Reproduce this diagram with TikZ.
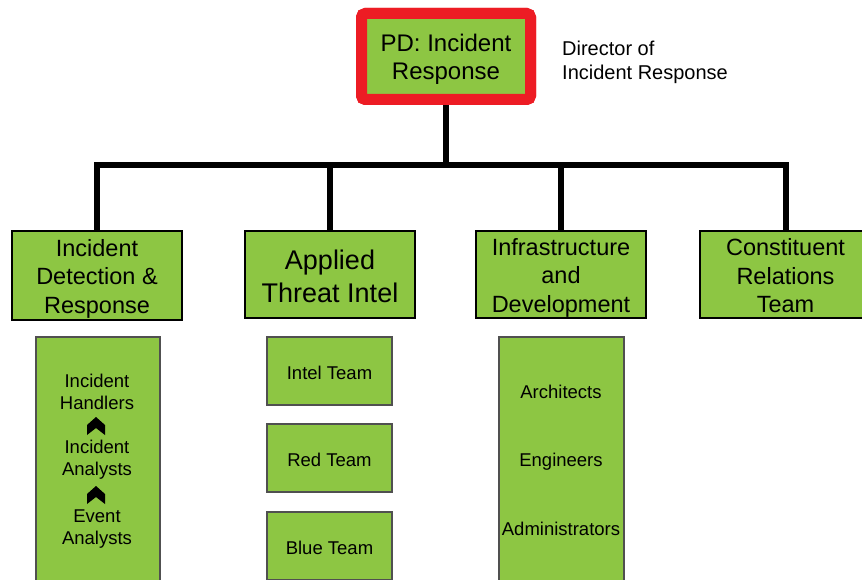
\documentclass[tikz,border=0pt]{standalone}
\usepackage{fontspec}
\setmainfont{Liberation Sans}
\definecolor{boxgreen}{RGB}{141,198,67}
\definecolor{boxred}{RGB}{237,28,36}
\definecolor{subedge}{RGB}{80,80,80}
\tikzset{
  mainbox/.style={draw=black, line width=1.2pt, fill=boxgreen, inner sep=0pt, minimum width=170pt},
  topbox/.style={draw=boxred, line width=11pt, fill=boxgreen, rounded corners=4pt, minimum width=169pt, minimum height=86pt, inner sep=0pt},
  maintext/.style={align=center, inner sep=0pt, font=\fontsize{23.5}{28.5}\selectfont},
  subbox/.style={draw=subedge, line width=1.2pt, fill=boxgreen, inner sep=0pt, minimum width=125pt},
  subtext/.style={align=center, inner sep=0pt, font=\fontsize{18.5}{22}\selectfont},
  conn/.style={draw=black, line width=6pt},
  chev/.style={fill=black}
}
\begin{document}
\begin{tikzpicture}[x=1pt,y=-1pt]
\useasboundingbox (0,0) rectangle (862,580);
\clip (0,0) rectangle (862,580);

% nodes (boxes)
\node[topbox] (top) at (446,56.5) {};
\node[mainbox, minimum height=89pt] (idr) at (97,275.5) {};
\node[mainbox, minimum height=87pt] (ati) at (330,274.5) {};
\node[mainbox, minimum height=87pt] (infra) at (561,274.5) {};
\node[mainbox, minimum width=171pt, minimum height=87pt] (cr) at (785.5,274.5) {};

% connectors
\coordinate (bar) at (446,165);
\draw[conn] (top.south) -- (top.south |- bar);
\draw[conn] (idr.north) -- (idr.north |- bar) -- (cr.north |- bar) -- (cr.north);
\draw[conn] (ati.north) -- (ati.north |- bar);
\draw[conn] (infra.north) -- (infra.north |- bar);
% redraw boxes over connector ends
\node[topbox] (topc) at (top.center) {};
\node[mainbox, minimum height=89pt] (idrc) at (idr.center) {};
\node[mainbox, minimum height=87pt] (atic) at (ati.center) {};
\node[mainbox, minimum height=87pt] (infrac) at (infra.center) {};
\node[mainbox, minimum width=171pt, minimum height=87pt] (crc) at (cr.center) {};

% texts
\node[align=center, inner sep=0pt, font=\fontsize{24}{28}\selectfont] (toptxt) at ([yshift=-3]top.center) {PD: Incident\\Response};
\node[anchor=west, inner sep=0pt, align=left, font=\fontsize{20}{24}\selectfont] (dir) at (562,62) {Director of\\Incident Response};
\node[maintext] (idrtxt) at ([yshift=-3]idr.center) {Incident\\Detection \&\\Response};
\node[align=center, inner sep=0pt, font=\fontsize{27}{33}\selectfont] (atitxt) at ([yshift=-2]ati.center) {Applied\\Threat Intel};
\node[maintext] (infratxt) at ([yshift=-3]infra.center) {Infrastructure\\and\\Development};
\node[maintext] (crtxt) at ([yshift=-1.5]cr.center) {Constituent\\Relations\\Team};

% level 3 : IDR
\node[subbox, minimum width=124pt, minimum height=283pt] (idrsub) at (98,478.5) {};
\node[subtext] (hand) at (97,392) {Incident\\Handlers};
\node[subtext] (ianal) at (97,460) {Incident\\Analysts};
\node[subtext] (evt) at (97,529) {Event\\Analysts};
\fill[chev] (96,425) ++(-9,10) -- ++(0,-10) -- ++(9,-8) -- ++(9,8) -- ++(0,10) -- ++(-9,-7) -- cycle;
\fill[chev] (96,494) ++(-9,10) -- ++(0,-10) -- ++(9,-8) -- ++(9,8) -- ++(0,10) -- ++(-9,-7) -- cycle;

% level 3 : ATI
\node[subbox, minimum height=68pt] (intel) at (329.5,371) {};
\node[subbox, minimum height=68pt] (redt) at (329.5,458) {};
\node[subbox, minimum height=68pt] (bluet) at (329.5,546) {};
\node[subtext] (inteltxt) at ([yshift=-2]intel.center) {Intel Team};
\node[subtext] (redtxt) at ([yshift=-2]redt.center) {Red Team};
\node[subtext] (bluetxt) at ([yshift=-2]bluet.center) {Blue Team};

% level 3 : Infra
\node[subbox, minimum height=283pt] (infrasub) at (561.5,478.5) {};
\node[subtext] (arch) at (561,392) {Architects};
\node[subtext] (eng) at (561,462) {Engineers};
\node[subtext] (adm) at (561,529) {Administrators};
\end{tikzpicture}
\end{document}
